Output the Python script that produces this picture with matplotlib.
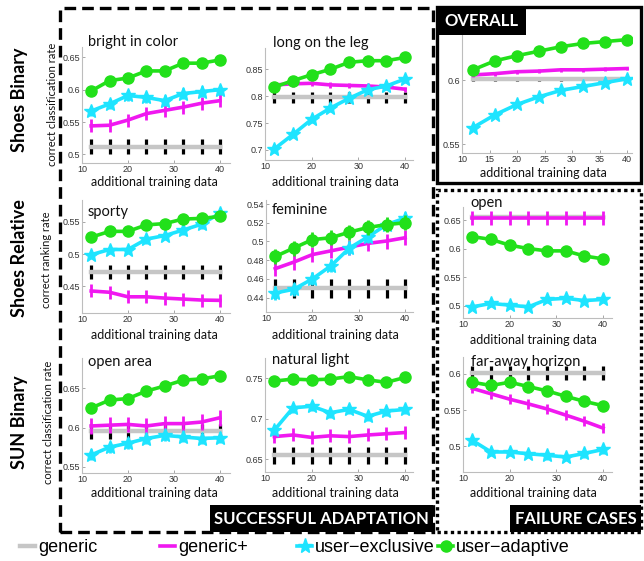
import matplotlib
matplotlib.use('Agg')
import matplotlib.pyplot as plt
from matplotlib.lines import Line2D
from matplotlib.patches import Rectangle

W, H = 644, 561

# ---------------- data ----------------
x_data = [12, 16, 20, 24, 28, 32, 36, 40]
series_names = ['generic', 'generic+', 'user\u2212exclusive', 'user\u2212adaptive']

bright_generic = [0.512, 0.512, 0.512, 0.512, 0.512, 0.512, 0.512, 0.512]
bright_genplus = [0.544, 0.545, 0.553, 0.563, 0.568, 0.573, 0.579, 0.583]
bright_excl = [0.567, 0.578, 0.591, 0.588, 0.583, 0.594, 0.597, 0.600]
bright_adapt = [0.598, 0.614, 0.618, 0.629, 0.629, 0.641, 0.641, 0.646]

leg_generic = [0.798, 0.798, 0.798, 0.798, 0.798, 0.798, 0.798, 0.798]
leg_genplus = [0.821, 0.823, 0.824, 0.821, 0.820, 0.819, 0.817, 0.813]
leg_excl = [0.702, 0.729, 0.757, 0.778, 0.796, 0.812, 0.819, 0.832]
leg_adapt = [0.817, 0.829, 0.840, 0.850, 0.863, 0.866, 0.866, 0.872]

overall_generic = [0.601, 0.601, 0.601, 0.601, 0.601, 0.601, 0.601, 0.601]
overall_genplus = [0.604, 0.605, 0.6065, 0.607, 0.608, 0.608, 0.6085, 0.609]
overall_excl = [0.563, 0.573, 0.581, 0.587, 0.592, 0.595, 0.598, 0.601]
overall_adapt = [0.608, 0.615, 0.619, 0.6225, 0.626, 0.6285, 0.630, 0.6315]

sporty_generic = [0.472, 0.472, 0.472, 0.472, 0.472, 0.472, 0.472, 0.472]
sporty_genplus = [0.443, 0.441, 0.434, 0.434, 0.432, 0.4305, 0.429, 0.4285]
sporty_excl = [0.499, 0.507, 0.507, 0.523, 0.5285, 0.537, 0.546, 0.563]
sporty_adapt = [0.526, 0.535, 0.535, 0.545, 0.547, 0.554, 0.555, 0.558]

feminine_generic = [0.450, 0.450, 0.450, 0.450, 0.450, 0.450, 0.450, 0.450]
feminine_genplus = [0.471, 0.478, 0.486, 0.490, 0.494, 0.498, 0.5005, 0.504]
feminine_excl = [0.445, 0.449, 0.460, 0.474, 0.493, 0.505, 0.518, 0.525]
feminine_adapt = [0.484, 0.493, 0.502, 0.504, 0.510, 0.515, 0.518, 0.520]

open_generic = [0.655, 0.655, 0.655, 0.655, 0.655, 0.655, 0.655, 0.655]
open_genplus = [0.654, 0.654, 0.654, 0.654, 0.654, 0.654, 0.654, 0.654]
open_excl = [0.498, 0.504, 0.501, 0.498, 0.511, 0.513, 0.509, 0.511]
open_adapt = [0.621, 0.616, 0.606, 0.600, 0.596, 0.596, 0.587, 0.582]

openarea_generic = [0.595, 0.595, 0.595, 0.595, 0.595, 0.595, 0.595, 0.595]
openarea_genplus = [0.602, 0.603, 0.604, 0.602, 0.605, 0.605, 0.607, 0.6125]
openarea_excl = [0.565, 0.575, 0.580, 0.586, 0.590, 0.588, 0.586, 0.587]
openarea_adapt = [0.625, 0.635, 0.637, 0.6465, 0.653, 0.6605, 0.662, 0.666]

natural_generic = [0.655, 0.655, 0.655, 0.655, 0.655, 0.655, 0.655, 0.655]
natural_genplus = [0.678, 0.680, 0.677, 0.679, 0.678, 0.680, 0.6815, 0.683]
natural_excl = [0.686, 0.7135, 0.7155, 0.7075, 0.7115, 0.703, 0.7095, 0.7115]
natural_adapt = [0.7465, 0.749, 0.748, 0.749, 0.752, 0.748, 0.745, 0.751]

horizon_generic = [0.601, 0.601, 0.601, 0.601, 0.601, 0.601, 0.601, 0.601]
horizon_genplus = [0.580, 0.5725, 0.565, 0.5585, 0.5515, 0.543, 0.5345, 0.525]
horizon_excl = [0.508, 0.492, 0.492, 0.4895, 0.4875, 0.485, 0.490, 0.4955]
horizon_adapt = [0.5885, 0.584, 0.5885, 0.5825, 0.5765, 0.569, 0.562, 0.556]

# error half-widths: generic, generic+, user-exclusive, user-adaptive
bright_err = [0.011, 0.010, 0.008, 0.006]
leg_err = [0.010, 0.005, 0.007, 0.005]
overall_err = [0.0015, 0.0015, 0.002, 0.002]
sporty_err = [0.011, 0.010, 0.007, 0.006]
feminine_err = [0.0103, 0.008, 0.007, 0.008]
open_err = [0.004, 0.012, 0.006, 0.005]
openarea_err = [0.009, 0.010, 0.007, 0.006]
natural_err = [0.0103, 0.008, 0.006, 0.004]
horizon_err = [0.010, 0.007, 0.006, 0.005]

titles = ['bright in color', 'long on the leg', '', 'sporty', 'feminine', 'open',
          'open area', 'natural light', 'far-away horizon']
row_labels = ['Shoes Binary', 'Shoes Relative', 'SUN Binary']
ylabels = ['correct classification rate', 'correct ranking rate', 'correct classification rate']
xlabel_text = 'additional training data'

yticks = [[0.5, 0.55, 0.6, 0.65], [0.7, 0.75, 0.8, 0.85], [0.55, 0.6],
          [0.45, 0.5, 0.55], [0.44, 0.46, 0.48, 0.5, 0.52, 0.54], [0.5, 0.55, 0.6, 0.65],
          [0.55, 0.6, 0.65], [0.65, 0.7, 0.75], [0.5, 0.55, 0.6]]
xticks_std = [10, 20, 30, 40]
xticks_overall = [10, 15, 20, 25, 30, 35, 40]

panels = [
    (bright_generic, bright_genplus, bright_excl, bright_adapt, bright_err),
    (leg_generic, leg_genplus, leg_excl, leg_adapt, leg_err),
    (overall_generic, overall_genplus, overall_excl, overall_adapt, overall_err),
    (sporty_generic, sporty_genplus, sporty_excl, sporty_adapt, sporty_err),
    (feminine_generic, feminine_genplus, feminine_excl, feminine_adapt, feminine_err),
    (open_generic, open_genplus, open_excl, open_adapt, open_err),
    (openarea_generic, openarea_genplus, openarea_excl, openarea_adapt, openarea_err),
    (natural_generic, natural_genplus, natural_excl, natural_adapt, natural_err),
    (horizon_generic, horizon_genplus, horizon_excl, horizon_adapt, horizon_err),
]

# ---------------- layout (pixels: left, top, right, bottom) ----------------
boxes = [(82, 47, 230, 163), (265, 48, 413, 160), (462, 30, 632, 153),
         (82, 200, 230, 313), (266, 200, 413, 312), (463, 207, 612, 318),
         (82, 358, 230, 473), (265, 358, 413, 472), (463, 357, 612, 472)]
ylims = [(0.4866, 0.666), (0.6814, 0.8896), (0.5432, 0.639),
         (0.409, 0.5834), (0.4247, 0.5443), (0.4785, 0.6728),
         (0.542, 0.6887), (0.6343, 0.775), (0.4643, 0.6234)]
xlims = [(10, 42.2), (10, 41.7), (10, 40.9),
         (10, 42.2), (10, 41.7), (10, 41.9),
         (10, 42.2), (10, 41.7), (10, 41.9)]
title_pos = [(88, 42), (273, 43), None, (88, 212), (272, 210), (470, 203),
             (88, 362), (272, 360), (471, 362)]
xlabel_pos = [(154, 182), (335, 182), (543, 173), (154, 335), (335, 335), (533, 340),
              (154, 493), (335, 493), (533, 493)]

GRAY = '#c6c6c6'
MAG = '#f018f0'
CYAN = '#1ee4ff'
GREEN = '#22e01a'

LAB_FONT = ['Lato', 'DejaVu Sans']
TICK_FONT = ['Liberation Sans', 'DejaVu Sans']

fig = plt.figure(figsize=(W / 100, H / 100), dpi=100)


def fx(px):
    return px / W


def fy(py):
    return 1 - py / H


axes = []
for i, (box, pdata) in enumerate(zip(boxes, panels)):
    l, t, r, b = box
    ax = fig.add_axes([fx(l), fy(b), (r - l) / W, (b - t) / H])
    axes.append(ax)
    gen, gp, ex, ad, err = pdata
    ax.errorbar(x_data, gen, yerr=err[0], color=GRAY, lw=3.2, ecolor='black',
                elinewidth=2.3, capsize=0, zorder=2)
    ax.errorbar(x_data, gp, yerr=err[1], color=MAG, lw=2.6, ecolor=MAG,
                elinewidth=2.0, capsize=0, zorder=3)
    ax.errorbar(x_data, ex, yerr=err[2], color=CYAN, lw=2.6, ecolor=CYAN,
                elinewidth=2.0, capsize=0, marker='*', ms=10, mec=CYAN, mfc=CYAN, zorder=4)
    ax.errorbar(x_data, ad, yerr=err[3], color=GREEN, lw=2.6, ecolor=GREEN,
                elinewidth=2.0, capsize=0, marker='o', ms=8, mec=GREEN, mfc=GREEN, zorder=5)
    ax.set_xlim(*xlims[i])
    ax.set_ylim(*ylims[i])
    ax.set_xticks(xticks_overall if i == 2 else xticks_std)
    ax.set_yticks(yticks[i])
    ax.set_yticklabels(['%g' % v for v in yticks[i]])
    for s in ['top', 'right']:
        ax.spines[s].set_visible(False)
    for s in ['left', 'bottom']:
        ax.spines[s].set_color('#bdbdbd')
        ax.spines[s].set_linewidth(0.8)
    ax.tick_params(labelsize=6.5, labelcolor='#333333', color='#999999',
                   length=2, width=0.6, direction='in', pad=1.5)
    for lab in ax.get_xticklabels() + ax.get_yticklabels():
        lab.set_family(TICK_FONT)
    ax.set_xlabel(xlabel_text, fontsize=9, family=LAB_FONT, color='#111111')
    ax.xaxis.label.set_va('center')
    ax.xaxis.set_label_coords(fx(xlabel_pos[i][0]), fy(xlabel_pos[i][1]),
                              transform=fig.transFigure)
    if title_pos[i] is not None:
        fig.text(fx(title_pos[i][0]), fy(title_pos[i][1]), titles[i], fontsize=10.5,
                 family=LAB_FONT, ha='left', va='center', color='#111111')

# y labels for first column
ylab_pos = [(53, 104), (47, 260), (48, 422)]
for k, ai in enumerate([0, 3, 6]):
    axes[ai].set_ylabel(ylabels[k], fontsize=8, family=LAB_FONT, color='#111111')
    axes[ai].yaxis.label.set_va('center')
    axes[ai].yaxis.set_label_coords(fx(ylab_pos[k][0]), fy(ylab_pos[k][1]),
                                    transform=fig.transFigure)

# row labels
row_pos = [(20, 100), (20, 258), (20, 422)]
for lab, (px, py) in zip(row_labels, row_pos):
    fig.text(fx(px), fy(py), lab, rotation=90, fontsize=13, fontweight='bold',
             family=LAB_FONT, ha='center', va='center', color='black')


# ---------------- frames ----------------
def rect_px(l, t, r, b, **kw):
    p = Rectangle((fx(l), fy(b)), (r - l) / W, (b - t) / H,
                  transform=fig.transFigure, **kw)
    fig.add_artist(p)
    return p


rect_px(60, 8, 433, 532, fill=False, ec='black', lw=2.4, ls=(0, (3.5, 1.8)))
rect_px(437, 7, 641, 183, fill=False, ec='black', lw=2.4)
rect_px(437, 190, 641, 532, fill=False, ec='black', lw=2.4, ls=(0, (1, 1)))

# label boxes
label_boxes = [((437, 7, 526, 35), 'OVERALL'),
               ((210, 505, 433, 532), 'SUCCESSFUL ADAPTATION'),
               ((510, 505, 641, 532), 'FAILURE CASES')]
for (l, t, r, b), txt in label_boxes:
    rect_px(l, t, r, b, fc='black', ec='black', lw=0)
    fig.text(fx((l + r) / 2), fy((t + b) / 2), txt, color='white', fontsize=12,
             fontweight='bold', family=LAB_FONT, ha='center', va='center')

# ---------------- legend ----------------
handles = [Line2D([], [], color=GRAY, lw=3.2),
           Line2D([], [], color=MAG, lw=2.6),
           Line2D([], [], color=CYAN, lw=2.6, marker='*', ms=11),
           Line2D([], [], color=GREEN, lw=2.6, marker='o', ms=8)]
leg_x = [20, 160, 297, 438]
for h, name, px in zip(handles, series_names, leg_x):
    fig.legend(handles=[h], labels=[name], loc='center left',
               bbox_to_anchor=(fx(px), fy(548)), frameon=False, borderpad=0,
               borderaxespad=0, handlelength=0.85, handletextpad=0.15,
               prop={'family': TICK_FONT, 'size': 13})

fig.savefig('out.png', dpi=100, facecolor='white')
